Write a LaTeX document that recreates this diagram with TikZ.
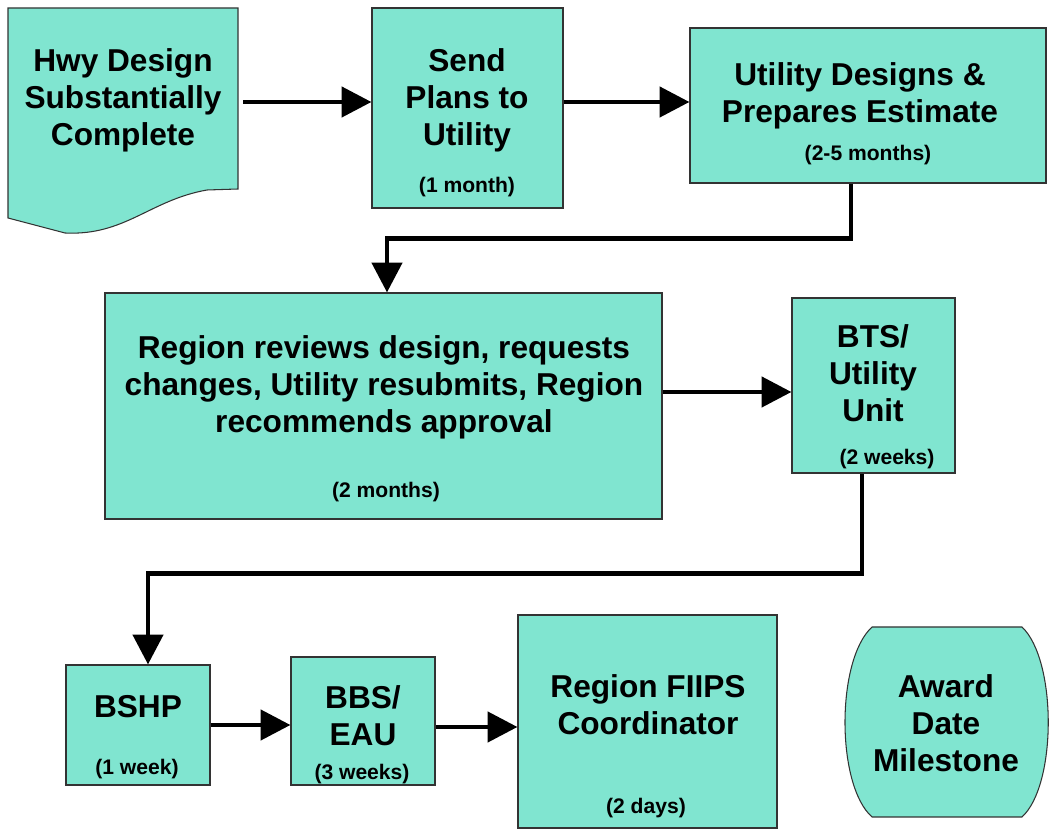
\documentclass[tikz,border=0pt]{standalone}
\usepackage{fontspec}
\setmainfont{Liberation Sans}
\usetikzlibrary{arrows.meta,fit}
\definecolor{flowTeal}{HTML}{80E5D0}
\definecolor{flowEdge}{HTML}{333333}

\begin{document}
\begin{tikzpicture}[x=0.2mm,y=-0.2mm]
  \tikzset{
    stepbox/.style={draw=flowEdge,fill=flowTeal,line width=0.6pt,inner sep=0pt},
    title/.style={font=\fontsize{18}{21}\selectfont\bfseries,align=center},
    span/.style={font=\fontsize{12}{14}\selectfont\bfseries},
    flow/.style={line width=2.8pt,-{Triangle[length=17pt,width=17pt]}}
  }
  \useasboundingbox (0,0) rectangle (1050,830);

  \filldraw[stepbox] (8,8) -- (238,8) -- (238,189) -- (207,190)
    .. controls (150,200) and (125,236) .. (65,233) -- (8,218) -- cycle;
  \node[fit={(8,8) (238,196)},inner sep=0pt] (hwy) {};
  \filldraw[stepbox] (872,627) -- (1022,627)
    .. controls (1057,660) and (1057,785) .. (1022,817) -- (872,817)
    .. controls (836,785) and (836,660) .. (872,627) -- cycle;
  \node[fit={(845,627) (1048,817)},inner sep=0pt] (award) {};

  \node[stepbox,fit={(372,8) (563,208)}] (send) {};
  \node[stepbox,fit={(690,28) (1046,183)}] (util) {};
  \node[stepbox,fit={(105,293) (662,519)}] (review) {};
  \node[stepbox,fit={(792,298) (955,473)}] (bts) {};
  \node[stepbox,fit={(66,665) (210,785)}] (bshp) {};
  \node[stepbox,fit={(291,657) (435,785)}] (bbs) {};
  \node[stepbox,fit={(518,615) (777,828)}] (fiips) {};

  \node[title] (hwyTxt) at (123,100) {Hwy Design\\Substantially\\Complete};
  \node[title] (sendTxt) at (467,100) {Send\\Plans to\\Utility};
  \node[span] (sendTime) at (467,187) {(1 month)};
  \node[title] (utilTxt) at (860,96) {Utility Designs \&\\Prepares Estimate};
  \node[span] (utilTime) at (868,155) {(2-5 months)};
  \node[title] (reviewTxt) at (384,387) {Region reviews design, requests\\changes, Utility resubmits, Region\\recommends approval};
  \node[span] (reviewTime) at (386,492) {(2 months)};
  \node[title] (btsTxt) at (873,373) {BTS/\\Utility\\Unit};
  \node[span] (btsTime) at (887,459) {(2 weeks)};
  \node[title] (bshpTxt) at (138,707) {BSHP};
  \node[span] (bshpTime) at (137,769) {(1 week)};
  \node[title] (bbsTxt) at (363,716) {BBS/\\EAU};
  \node[span] (bbsTime) at (362,774) {(3 weeks)};
  \node[title] (fiipsTxt) at (648,705) {Region FIIPS\\Coordinator};
  \node[span] (fiipsTime) at (646,808) {(2 days)};
  \node[title] (awardTxt) at (946,723) {Award\\Date\\Milestone};

  \draw[flow] ([xshift=1mm]hwy.east) -- (hwy.east -| send.west);
  \draw[flow] ([yshift=1.2mm]send.east) -- ([yshift=1.2mm]send.east -| util.west);
  \draw[flow] ([xshift=-3.4mm]util.south) -- ++(0,55) -| ([xshift=0.7mm]review.north);
  \draw[flow] ([yshift=-1.3mm]review.east |- bts.west) -- ([yshift=-1.3mm]bts.west);
  \draw[flow] ([xshift=-2.3mm]bts.south) -- ++(0,100) -| ([xshift=2mm]bshp.north);
  \draw[flow] (bshp.east) -- (bshp.east -| bbs.west);
  \draw[flow] ([yshift=-1.2mm]bbs.east) -- ([yshift=-1.2mm]bbs.east -| fiips.west);
\end{tikzpicture}
\end{document}
